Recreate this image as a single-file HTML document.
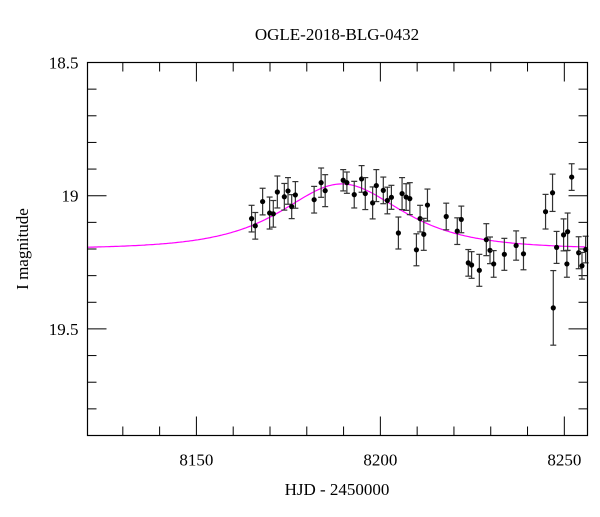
<!DOCTYPE html>
<html><head><meta charset="utf-8"><style>
body{margin:0;background:#fff}
svg text{font-family:"Liberation Serif",serif;fill:#000}
</style></head><body>
<svg id="chart" width="600" height="512" xmlns="http://www.w3.org/2000/svg">
<text x="337" y="40" font-size="17" text-anchor="middle">OGLE-2018-BLG-0432</text>
<text x="337" y="495" font-size="17" text-anchor="middle">HJD - 2450000</text>
<text transform="translate(28,249) rotate(-90)" font-size="17" text-anchor="middle">I magnitude</text>
<g id="ticks"></g>
<g id="model"></g>
<g id="pts"></g>
<rect x="87.5" y="62.5" width="500" height="373" fill="none" stroke="#000" stroke-width="1.2"/>
</svg>
<script>
const hjd=[8165.0,8166.0,8168.0,8169.9,8170.9,8172.0,8173.9,8174.9,8175.9,8176.9,8182.0,8183.9,8185.0,8189.9,8190.9,8192.9,8194.9,8195.9,8197.9,8198.9,8200.8,8201.9,8203.0,8204.9,8205.9,8207.0,8208.0,8209.8,8210.8,8211.8,8212.8,8217.9,8220.9,8222.0,8223.9,8224.8,8226.9,8228.8,8229.8,8230.8,8233.7,8236.9,8238.9,8244.9,8246.8,8247.0,8247.9,8249.8,8250.7,8250.9,8252.0,8253.9,8254.8,8255.8];
const mag=[19.086,19.113,19.022,19.065,19.068,18.986,19.004,18.982,19.041,18.997,19.015,18.951,18.981,18.942,18.951,18.996,18.937,18.992,19.027,18.962,18.980,19.018,19.006,19.140,18.992,19.005,19.011,19.203,19.086,19.145,19.035,19.078,19.133,19.089,19.252,19.260,19.280,19.165,19.205,19.256,19.220,19.187,19.218,19.060,18.989,19.421,19.194,19.147,19.256,19.135,18.930,19.214,19.263,19.202];
const err=[0.05,0.05,0.05,0.06,0.05,0.06,0.05,0.05,0.045,0.05,0.05,0.055,0.06,0.04,0.04,0.05,0.05,0.06,0.06,0.06,0.05,0.05,0.045,0.06,0.06,0.05,0.06,0.06,0.05,0.06,0.06,0.05,0.05,0.05,0.05,0.05,0.06,0.06,0.05,0.05,0.06,0.055,0.06,0.065,0.07,0.14,0.06,0.06,0.05,0.07,0.05,0.06,0.05,0.05];
const xTicks=[8150,8200,8250];
const yTicks=[18.5,19,19.5];
const yLabels=["18.5","19","19.5"];
const model={t0:8189.5,u0:1.15,tE:18,base:19.2};
const X0=87.5,X1=587.5,Y0=62.5,Y1=435.5,XMIN=8120.4,XMAX=8256.3,YMIN=18.5,YMAX=19.9;
const xs=v=>X0+(v-XMIN)/(XMAX-XMIN)*(X1-X0);
const ys=v=>Y0+(v-YMIN)/(YMAX-YMIN)*(Y1-Y0);
const NS="http://www.w3.org/2000/svg";
function mk(tag,parent,at){const e=document.createElementNS(NS,tag);for(const k in at)e.setAttribute(k,at[k]);parent.appendChild(e);return e;}
const tg=document.getElementById('ticks');
for(let t=8130;t<=8256;t+=10){
  const major=t%50===0,L=major?19:9,x=xs(t);
  const a=mk('line',tg,{x1:x,x2:x,y1:Y1,y2:Y1-L,stroke:'#000'});
  
  
  const b=mk('line',tg,{x1:x,x2:x,y1:Y0,y2:Y0+L,stroke:'#000'});
  
  
}
xTicks.forEach(t=>{
  const e=mk('text',tg,{x:xs(t),y:Y1+30,'font-size':17,'text-anchor':'middle'});
  e.textContent=t;
  
  
});
for(let i=0;i<=13;i++){
  const v=18.5+i*0.1,major=i%5===0,L=major?19:9,y=ys(v);
  const a=mk('line',tg,{x1:X0,x2:X0+L,y1:y,y2:y,stroke:'#000'});
  
  
  const b=mk('line',tg,{x1:X1,x2:X1-L,y1:y,y2:y,stroke:'#000'});
  
  
}
yTicks.forEach((v,i)=>{
  const e=mk('text',tg,{x:X0-9,y:ys(v)+6,'font-size':17,'text-anchor':'end'});
  e.textContent=yLabels[i];
  
  
});
let d='';
for(let t=XMIN;t<=XMAX;t+=0.5){
  const tau=(t-model.t0)/model.tE,u=Math.sqrt(model.u0*model.u0+tau*tau);
  const A=(u*u+2)/(u*Math.sqrt(u*u+4));
  const m=model.base-2.5*Math.log10(A);
  d+=(d?'L':'M')+xs(t).toFixed(1)+','+ys(m).toFixed(1);
}
const mp=mk('path',document.getElementById('model'),{d:d,fill:'none',stroke:'#ff00ff','stroke-width':1.2});


const pg=document.getElementById('pts');
hjd.forEach((t,i)=>{
  const x=xs(t),y=ys(mag[i]),y1=ys(mag[i]-err[i]),y2=ys(mag[i]+err[i]);
  const g=mk('g',pg,{stroke:'#333','stroke-width':1.2});
  
  
  mk('line',g,{x1:x,x2:x,y1:y1,y2:y2});
  mk('line',g,{x1:x-3,x2:x+3,y1:y1,y2:y1});
  mk('line',g,{x1:x-3,x2:x+3,y1:y2,y2:y2});
  mk('circle',g,{cx:x,cy:y,r:2.6,fill:'#000',stroke:'none'});
});
</script>
</body></html>
